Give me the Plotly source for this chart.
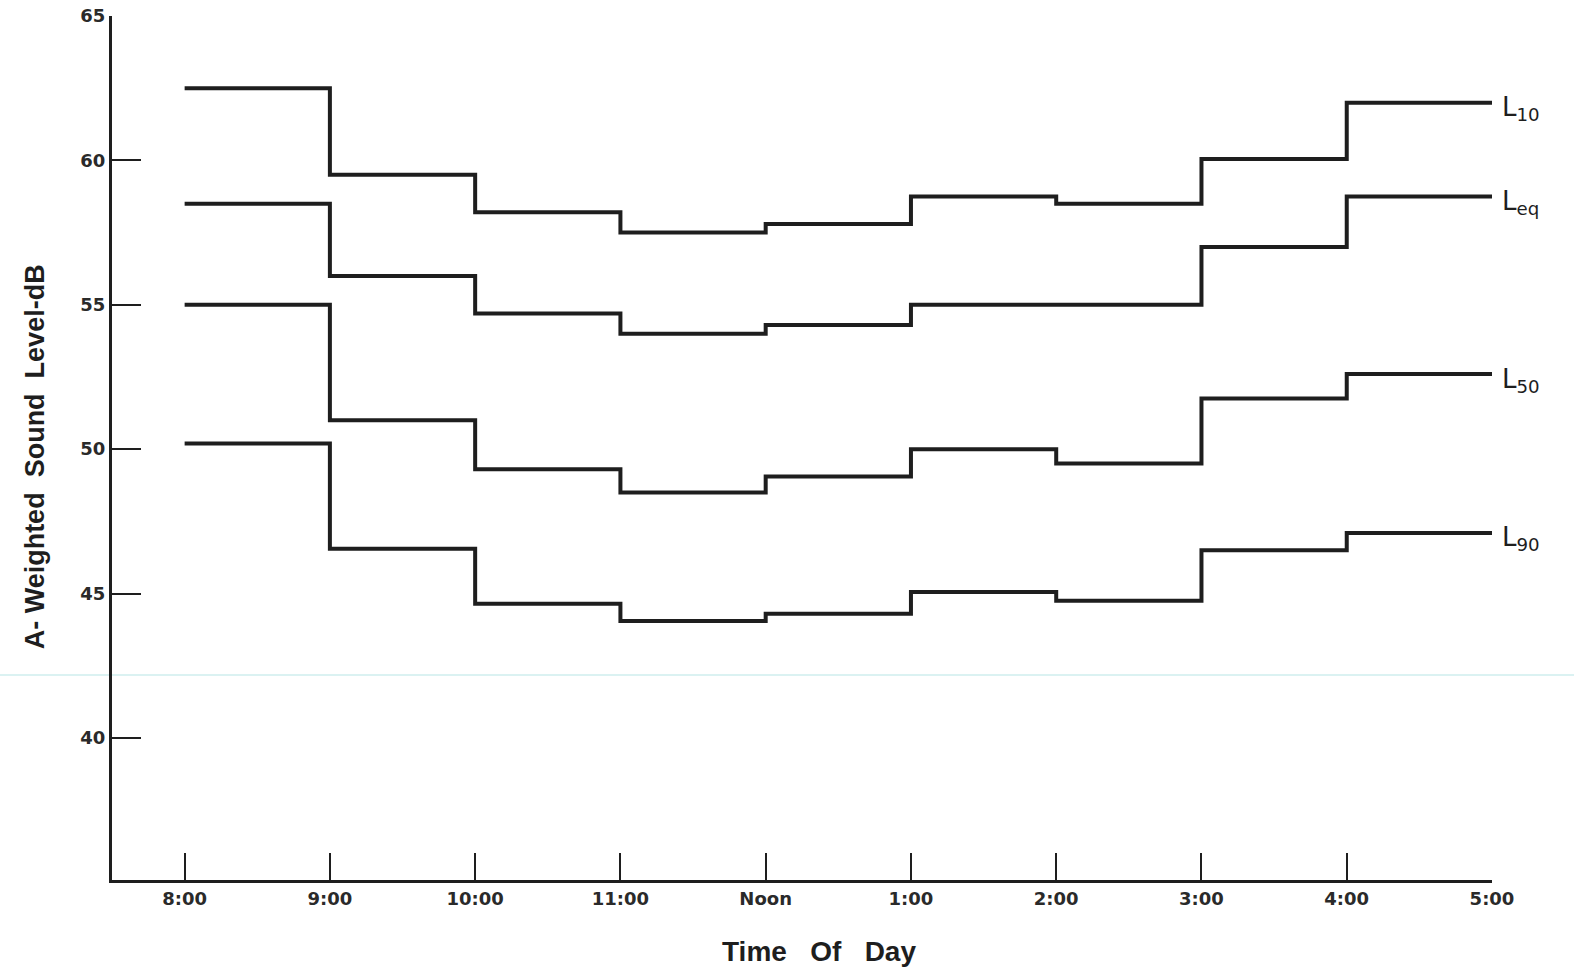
import plotly.graph_objects as go

# Hour boundaries (8:00 .. 5:00 pm as 8..17)
hours = [8, 9, 10, 11, 12, 13, 14, 15, 16, 17]
tick_labels = ["8:00", "9:00", "10:00", "11:00", "Noon", "1:00", "2:00", "3:00", "4:00", "5:00"]

# Hourly levels (dB) for each hour interval 8-9 ... 4-5
L10 = [62.5, 59.5, 58.2, 57.5, 57.8, 58.75, 58.5, 60.05, 62.0]
Leq = [58.5, 56.0, 54.7, 54.0, 54.3, 55.0, 55.0, 57.0, 58.75]
L50 = [55.0, 51.0, 49.3, 48.5, 49.05, 50.0, 49.5, 51.75, 52.6]
L90 = [50.2, 46.55, 44.65, 44.05, 44.3, 45.05, 44.75, 46.5, 47.1]

series = [("L<sub>10</sub>", L10), ("L<sub>eq</sub>", Leq),
          ("L<sub>50</sub>", L50), ("L<sub>90</sub>", L90)]

y_ticks = [40, 45, 50, 55, 60, 65]

ink = "#1e1e1e"
tickfont = dict(family="DejaVu Sans", size=18, color="#2a2a2a", weight="bold")

fig = go.Figure()
for name, vals in series:
    fig.add_trace(go.Scatter(
        x=hours, y=vals + [vals[-1]], mode="lines", line_shape="hv",
        line=dict(color=ink, width=4), showlegend=False, hoverinfo="skip"))
    fig.add_annotation(x=17, y=vals[-1], xref="x", yref="y", text=name,
                       showarrow=False, xanchor="left", yanchor="middle",
                       xshift=8, yshift=-6,
                       font=dict(family="DejaVu Sans", size=26, color=ink))

# faint scanning line across page
fig.add_shape(type="line", xref="paper", yref="y", x0=-0.09, x1=1.07,
              y0=42.18, y1=42.18, line=dict(color="#cfeeee", width=1.5), layer="below")

fig.add_annotation(text="<b>A- Weighted  Sound  Level-dB</b>", xref="paper", yref="paper",
                   x=-0.056, y=0.49, xanchor="center", yanchor="middle", textangle=-90,
                   showarrow=False, font=dict(family="Liberation Sans", size=27, color=ink))
fig.add_annotation(text="<b>Time   Of   Day</b>", xref="paper", yref="paper",
                   x=0.509, y=-0.078, xanchor="center", yanchor="middle",
                   yshift=-4, xshift=5,
                   showarrow=False, font=dict(family="Liberation Sans", size=28, color=ink))

fig.update_layout(
    width=1574, height=973,
    margin=dict(l=112, r=82, t=16, b=93, autoexpand=False),
    paper_bgcolor="white", plot_bgcolor="white",
    xaxis=dict(range=[7.5, 17.0], tickmode="array", tickvals=hours, ticktext=tick_labels,
               showgrid=False, zeroline=False, showline=True, linecolor=ink, linewidth=3,
               ticks="inside", ticklen=27, tickwidth=2, tickcolor=ink, automargin=False,
               tickfont=tickfont),
    yaxis=dict(range=[35.08, 65.0], tickmode="array", tickvals=y_ticks,
               ticktext=[str(v) for v in y_ticks],
               showgrid=False, zeroline=False, showline=True, linecolor=ink, linewidth=3,
               ticks="inside", ticklen=29, tickwidth=2, tickcolor=ink, automargin=False,
               tickfont=tickfont),
)

fig.write_html("out.html")
